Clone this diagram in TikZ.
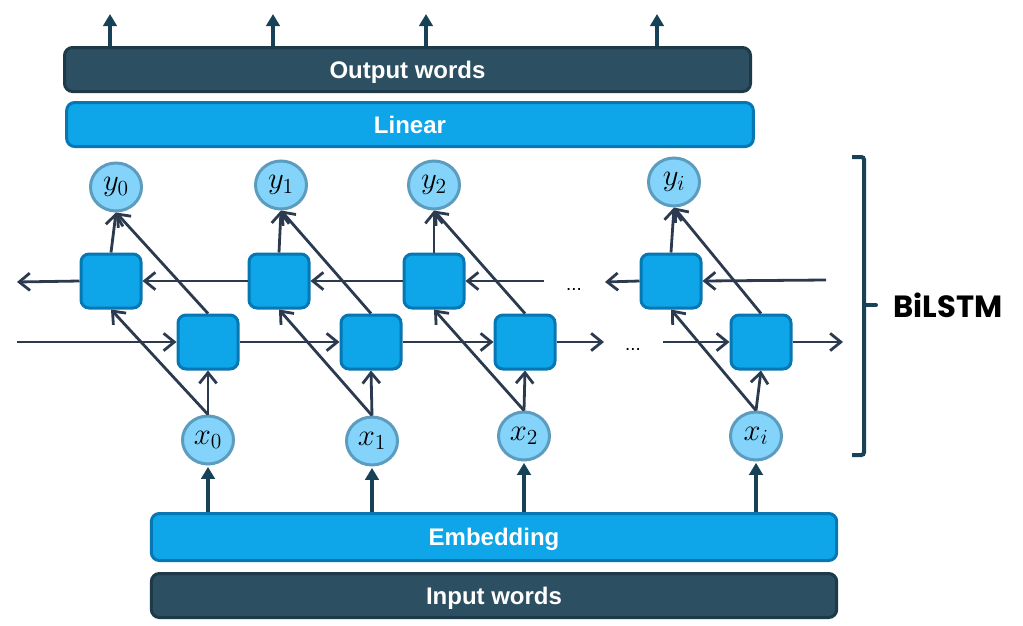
\RequirePackage{fix-cm}
\documentclass[tikz,border=0pt]{standalone}
\usepackage{fontspec}
\newfontfamily\boxfont{Liberation Sans}
\newfontfamily\bilfont{Poppins}
\usetikzlibrary{arrows.meta,calc,shapes.geometric}
\definecolor{darkbox}{HTML}{2C4F61}
\definecolor{darkboxline}{HTML}{1C3A48}
\definecolor{bluebox}{HTML}{0EA5E9}
\definecolor{blueline}{HTML}{0677B3}
\definecolor{circfill}{HTML}{84D3FA}
\definecolor{circline}{HTML}{5B9CBF}
\definecolor{connc}{HTML}{2B3A4F}
\definecolor{thickarr}{HTML}{174156}
\definecolor{bracecol}{HTML}{1A4256}
\begin{document}
\begin{tikzpicture}[x=0.75pt,y=-0.75pt,
  layerbox/.style={rectangle, rounded corners=6pt, line width=2.25pt, inner sep=0pt, text=white,
    text height=13pt, text depth=0pt,
    font=\boxfont\bfseries\fontsize{18}{22}\selectfont},
  darklayer/.style={layerbox, fill=darkbox, draw=darkboxline},
  bluelayer/.style={layerbox, fill=bluebox, draw=blueline},
  cell/.style={rectangle, rounded corners=6pt, fill=bluebox, draw=blueline, line width=2.25pt,
    minimum width=45pt, minimum height=40.5pt, inner sep=0pt},
  vec/.style={ellipse, fill=circfill, draw=circline, line width=2.25pt, inner sep=0pt,
    minimum width=38.25pt, minimum height=36pt, font=\fontsize{23}{26}\selectfont},
  connarr/.style={draw=connc, line width=2.1pt, -{Straight Barb[length=8pt,width=13pt]}},
  thickarrow/.style={draw=thickarr, line width=3pt, -{Triangle[length=9pt,width=10pt]}},
  dotsnode/.style={inner sep=0pt, font=\boxfont\fontsize{14}{16}\selectfont},
]
\useasboundingbox (0,0) rectangle (1023,625);

% layer boxes
\node[darklayer, minimum width=514.5pt, minimum height=33pt] (outw) at (407.5,69.5) {Output words};
\node[bluelayer, minimum width=515pt, minimum height=33pt] (lin) at (410,124.5) {Linear};
\node[bluelayer, minimum width=514pt, minimum height=35.25pt] (emb) at (494,537) {Embedding};
\node[darklayer, minimum width=514pt, minimum height=33pt] (inw) at (494,595.5) {Input words};

% output vectors
\node[vec] (y0) at (116,187) {$y_0$};
\node[vec] (y1) at (281,185) {$y_1$};
\node[vec] (y2) at (434,185) {$y_2$};
\node[vec] (yi) at (674,182) {$y_i$};

% input vectors
\node[vec] (x0) at (208,440) {$x_0$};
\node[vec] (x1) at (372,441) {$x_1$};
\node[vec] (x2) at (524,436) {$x_2$};
\node[vec] (xi) at (756,436) {$x_i$};

% backward cells
\node[cell] (b0) at (111,281) {};
\node[cell] (b1) at (279,281) {};
\node[cell] (b2) at (434,281) {};
\node[cell] (bi) at (671,281) {};

% forward cells
\node[cell] (f0) at (208,342) {};
\node[cell] (f1) at (371,342) {};
\node[cell] (f2) at (525,342) {};
\node[cell] (fi) at (761,342) {};

% dots
\node[dotsnode] (dotsf) at (633,349) {...};
\node[dotsnode] (dotsb) at (574,289) {...};

% free ends
\coordinate (fin) at (17,342);
\coordinate (bout) at (17,282);
\coordinate (f2out) at (604,342);
\coordinate (fiin) at (663,342);
\coordinate (fiout) at (843,342);
\coordinate (b2in) at (544,281);
\coordinate (biout) at (605,282);
\coordinate (biin) at (826,280);
\coordinate (t0) at (110,14);
\coordinate (t1) at (273,14);
\coordinate (t2) at (426,14);
\coordinate (ti) at (657,14);

% top arrows
\foreach \t in {t0,t1,t2,ti}
  \draw[thickarrow] (\t |- outw.north) -- (\t);

% bottom arrows
\foreach \x in {x0,x1,x2,xi}
  \draw[thickarrow, shorten >=1pt] (\x |- emb.north) -- (\x.south);

% vertical / diagonal connections
\foreach \x/\f/\b/\y in {x0/f0/b0/y0, x1/f1/b1/y1, x2/f2/b2/y2, xi/fi/bi/yi}{
  \draw[connarr] (\x.north) -- (\f.south);
  \draw[connarr] (\x.north) -- (\b.south);
  \draw[connarr] (\b.north) -- (\y.south);
  \draw[connarr] (\f.north) -- (\y.south);
}

% forward chain
\draw[connarr] (fin) -- (f0.west);
\draw[connarr] (f0.east) -- (f1.west);
\draw[connarr] (f1.east) -- (f2.west);
\draw[connarr] (f2.east) -- (f2out);
\draw[connarr] (fiin) -- (fi.west);
\draw[connarr] (fi.east) -- (fiout);

% backward chain
\draw[connarr] (b0.west) -- (bout);
\draw[connarr] (b1.west) -- (b0.east);
\draw[connarr] (b2.west) -- (b1.east);
\draw[connarr] (b2in) -- (b2.east);
\draw[connarr] (bi.west) -- (biout);
\draw[connarr] (biin) -- (bi.east);

% brace
\draw[bracecol, line width=3pt, rounded corners=2pt] (852,157) -- (864,157) -- (864,455) -- (852,455);
\draw[bracecol, line width=3pt, line cap=round] (864,305) -- (876,305);
\node[font=\bilfont\bfseries\fontsize{23}{26}\selectfont, inner sep=0pt] (bil) at (948,305) {BiLSTM};
\end{tikzpicture}
\end{document}
